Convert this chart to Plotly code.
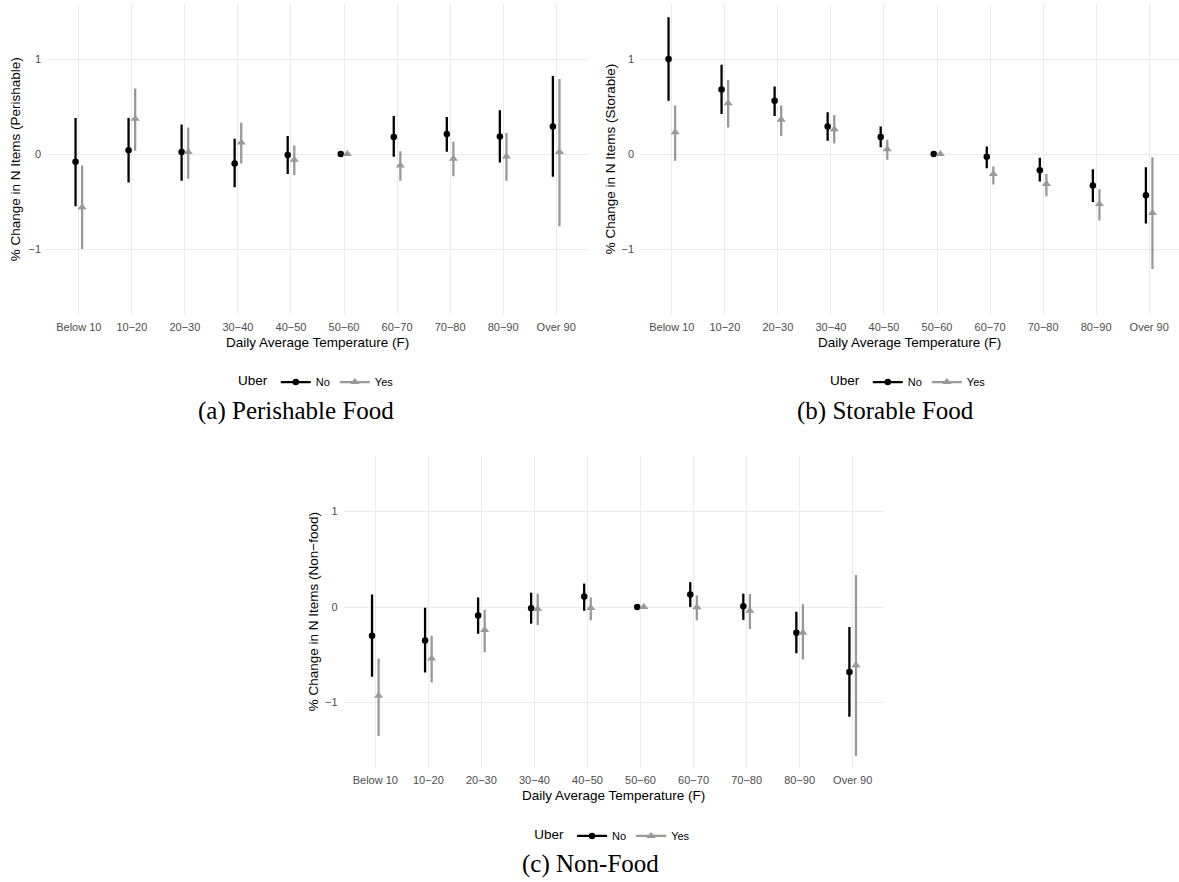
import plotly.graph_objects as go

# ---------------- data ----------------
categories = ["Below 10", "10\u221220", "20\u221230", "30\u221240", "40\u221250",
              "50\u221260", "60\u221270", "70\u221280", "80\u221290", "Over 90"]

perishable_no = [-0.08, 0.04, 0.02, -0.10, -0.01, 0.0, 0.18, 0.21, 0.185, 0.29]
perishable_no_lo = [-0.55, -0.30, -0.28, -0.35, -0.21, 0.0, -0.03, 0.025, -0.09, -0.24]
perishable_no_hi = [0.38, 0.38, 0.31, 0.16, 0.19, 0.0, 0.40, 0.39, 0.46, 0.82]
perishable_yes = [-0.56, 0.37, 0.02, 0.12, -0.06, 0.0, -0.12, -0.05, -0.025, 0.02]
perishable_yes_lo = [-1.00, 0.035, -0.26, -0.10, -0.22, 0.0, -0.28, -0.235, -0.28, -0.76]
perishable_yes_hi = [-0.12, 0.69, 0.28, 0.33, 0.09, 0.0, 0.03, 0.13, 0.22, 0.79]

storable_no = [1.00, 0.68, 0.56, 0.29, 0.18, 0.0, -0.03, -0.17, -0.33, -0.435]
storable_no_lo = [0.56, 0.42, 0.40, 0.14, 0.07, 0.0, -0.15, -0.29, -0.505, -0.73]
storable_no_hi = [1.44, 0.94, 0.71, 0.44, 0.29, 0.0, 0.08, -0.04, -0.16, -0.14]
storable_yes = [0.23, 0.535, 0.36, 0.26, 0.05, 0.0, -0.21, -0.315, -0.525, -0.62]
storable_yes_lo = [-0.07, 0.28, 0.19, 0.11, -0.06, 0.0, -0.32, -0.445, -0.70, -1.21]
storable_yes_hi = [0.51, 0.78, 0.51, 0.41, 0.15, 0.0, -0.13, -0.21, -0.37, -0.035]

nonfood_no = [-0.30, -0.35, -0.09, -0.014, 0.11, 0.0, 0.13, 0.007, -0.27, -0.68]
nonfood_no_lo = [-0.73, -0.685, -0.28, -0.175, -0.04, 0.0, 0.0, -0.135, -0.485, -1.15]
nonfood_no_hi = [0.13, -0.007, 0.10, 0.15, 0.245, 0.0, 0.26, 0.14, -0.05, -0.21]
nonfood_yes = [-0.93, -0.54, -0.24, -0.02, -0.01, 0.0, -0.003, -0.04, -0.27, -0.61]
nonfood_yes_lo = [-1.35, -0.79, -0.475, -0.19, -0.14, 0.0, -0.14, -0.23, -0.55, -1.56]
nonfood_yes_hi = [-0.54, -0.30, -0.03, 0.14, 0.10, 0.0, 0.12, 0.135, 0.03, 0.335]

y_titles = ["% Change in N Items (Perishable)",
            "% Change in N Items (Storable)",
            "% Change in N Items (Non\u2212food)"]
captions = ["(a) Perishable Food", "(b) Storable Food", "(c) Non-Food"]
x_title = "Daily Average Temperature (F)"
legend_title = "Uber"
group_names = ["No", "Yes"]

# ---------------- style ----------------
W, H = 1179, 882
COL_NO = "#000000"
COL_YES = "#999999"
GRID = "#EBEBEB"
TICK_COL = "#4D4D4D"
SANS = "Liberation Sans, Arial, sans-serif"
SERIF = "Liberation Serif, Times New Roman, serif"
DODGE = 0.062
YR = [-1.69, 1.58]

# plot areas in pixels: (left, right, top, bottom)
areas = [(47, 588, 3.9, 314.6), (640, 1179, 3.9, 314.6), (343.5, 884.1, 456.1, 768.4)]
ytitle_x = [15, 610, 313]
caption_x = [296, 885, 590]
px_per_unit = 541 / 10.2

panels = [
    (perishable_no, perishable_no_lo, perishable_no_hi, perishable_yes, perishable_yes_lo, perishable_yes_hi),
    (storable_no, storable_no_lo, storable_no_hi, storable_yes, storable_yes_lo, storable_yes_hi),
    (nonfood_no, nonfood_no_lo, nonfood_no_hi, nonfood_yes, nonfood_yes_lo, nonfood_yes_hi),
]

fig = go.Figure()
annotations = []
layout = {}

idx = list(range(len(categories)))

for p, (no, no_lo, no_hi, yes, yes_lo, yes_hi) in enumerate(panels):
    n = p + 1
    xa = "x" if n == 1 else f"x{n}"
    ya = "y" if n == 1 else f"y{n}"
    lg = "legend" if n == 1 else f"legend{n}"
    left, right, top, bottom = areas[p]

    series = [
        (group_names[0], no, no_lo, no_hi, COL_NO, "circle", 6.5, -DODGE),
        (group_names[1], yes, yes_lo, yes_hi, COL_YES, "triangle-up", 8, DODGE),
    ]
    for name, vals, lo, hi, col, sym, msize, off in series:
        fig.add_trace(go.Scatter(
            x=[i + off for i in idx], y=vals, mode="markers",
            marker=dict(color=col, symbol=sym, size=msize, line=dict(width=0)),
            error_y=dict(type="data", symmetric=False,
                         array=[h - v for h, v in zip(hi, vals)],
                         arrayminus=[v - l for v, l in zip(vals, lo)],
                         color=col, thickness=2.3, width=0),
            xaxis=xa, yaxis=ya, showlegend=False, hoverinfo="skip"))
    for name, vals, lo, hi, col, sym, msize, off in series:
        fig.add_trace(go.Scatter(
            x=[None], y=[None], mode="lines+markers", name=name,
            line=dict(color=col, width=2.3),
            marker=dict(color=col, symbol=sym, size=msize),
            xaxis=xa, yaxis=ya, legend=lg, showlegend=True, hoverinfo="skip"))

    xr_right = -0.6 + (right - left) / px_per_unit
    layout["xaxis" if n == 1 else f"xaxis{n}"] = dict(
        domain=[left / W, right / W], range=[-0.6, xr_right],
        tickmode="array", tickvals=idx, ticktext=categories,
        showgrid=True, gridcolor=GRID, gridwidth=1.1, zeroline=False,
        showline=False, ticks="", ticklabelstandoff=4,
        tickfont=dict(family=SANS, size=11, color=TICK_COL),
        anchor=ya, fixedrange=True)
    layout["yaxis" if n == 1 else f"yaxis{n}"] = dict(
        domain=[1 - bottom / H, 1 - top / H], range=YR,
        tickmode="array", tickvals=[-1, 0, 1],
        showgrid=True, gridcolor=GRID, gridwidth=1.1, zeroline=False,
        showline=False, ticks="", ticklabelstandoff=5,
        tickfont=dict(family=SANS, size=11, color=TICK_COL),
        anchor=xa, fixedrange=True)

    cx = (left + right) / 2
    annotations.append(dict(text=x_title, x=cx / W, y=1 - (bottom + 27.5) / H,
                            xref="paper", yref="paper", showarrow=False,
                            xanchor="center", yanchor="middle",
                            font=dict(family=SANS, size=13.5, color="#000000")))
    annotations.append(dict(text=y_titles[p], x=ytitle_x[p] / W, y=1 - ((top + bottom) / 2) / H,
                            xref="paper", yref="paper", showarrow=False, textangle=-90,
                            xanchor="center", yanchor="middle",
                            font=dict(family=SANS, size=13.5, color="#000000")))
    annotations.append(dict(text=captions[p], x=caption_x[p] / W, y=1 - (bottom + 96) / H,
                            xref="paper", yref="paper", showarrow=False,
                            xanchor="center", yanchor="middle",
                            font=dict(family=SERIF, size=25, color="#000000")))
    layout[lg] = dict(orientation="h", x=cx / W, xanchor="center",
                      y=1 - (bottom + 67.5) / H, yanchor="middle",
                      title=dict(text=legend_title, side="left",
                                 font=dict(family=SANS, size=13.5, color="#000000")),
                      font=dict(family=SANS, size=11, color="#000000"),
                      bgcolor="rgba(0,0,0,0)", itemwidth=30, tracegroupgap=0)

fig.update_layout(**layout)
fig.update_layout(width=W, height=H, margin=dict(l=0, r=0, t=0, b=0),
                  plot_bgcolor="white", paper_bgcolor="white",
                  font=dict(family=SANS), annotations=annotations)

fig.write_html("out.html")
